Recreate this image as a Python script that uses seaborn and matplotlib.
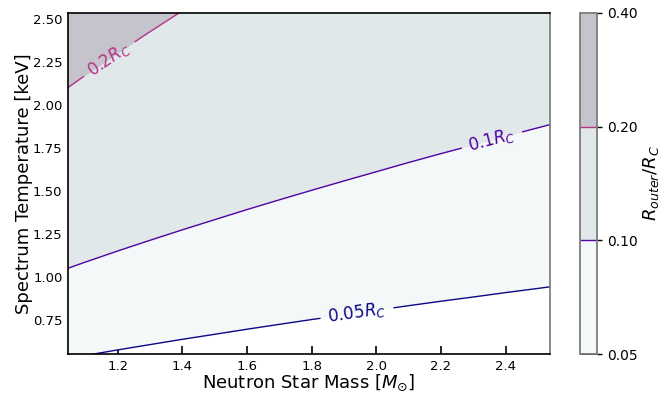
import numpy as np
import matplotlib
matplotlib.use('Agg')
import matplotlib.pyplot as plt
import seaborn as sns

# grid: R_outer / R_C at each (mass, temperature)
mass = [1.0, 1.1, 1.2, 1.3, 1.4, 1.5, 1.6, 1.7, 1.8, 1.9, 2.0, 2.1, 2.2, 2.3, 2.4, 2.5, 2.6]
temperature = [0.5, 2.6]
ratio_low_t = [0.0490, 0.0460, 0.0434, 0.0412, 0.0392, 0.0375, 0.0359, 0.0345, 0.0332,
               0.0321, 0.0310, 0.0300, 0.0291, 0.0283, 0.0275, 0.0268, 0.0261]
ratio_high_t = [0.2548, 0.2393, 0.2259, 0.2143, 0.2041, 0.1950, 0.1868, 0.1795, 0.1729,
                0.1668, 0.1613, 0.1561, 0.1514, 0.1471, 0.1430, 0.1392, 0.1356]
fill_levels = [0.05, 0.1, 0.2, 0.4]
line_levels = [0.05, 0.1, 0.2]
line_names = {0.05: '0.05$R_C$', 0.1: '0.1$R_C$', 0.2: '0.2$R_C$'}
label_spots = [(1.94, 0.79), (2.36, 1.78), (1.18, 2.25)]

sns.set_theme(style='white')
plt.rcParams['font.family'] = ['DejaVu Sans']
plt.rcParams['text.color'] = 'black'
plt.rcParams['axes.labelcolor'] = 'black'

fig = plt.figure(figsize=(6.7, 3.97), dpi=100)
ax = fig.add_axes([0.1015, 0.1083, 0.7194, 0.859])
cax = fig.add_axes([0.8657, 0.1083, 0.0254, 0.859])

M, T = np.meshgrid(mass, temperature)
Z = np.array([ratio_low_t, ratio_high_t])

fill_colors = ['#f4f8f9', '#e0e8e9', '#c5c4cc']
cf = ax.contourf(M, T, Z, levels=fill_levels, colors=fill_colors)

plasma = sns.color_palette('plasma', as_cmap=True)
line_colors = [plasma((v - 0.05) / 0.35) for v in line_levels]
cs = ax.contour(M, T, Z, levels=line_levels, colors=line_colors, linewidths=1.0)
ax.clabel(cs, fmt=line_names, fontsize=12, inline=True, manual=label_spots)

ax.set_xlim(1.046, 2.537)
ax.set_ylim(0.552, 2.535)
ax.set_xticks([1.2, 1.4, 1.6, 1.8, 2.0, 2.2, 2.4])
ax.set_yticks([0.75, 1.0, 1.25, 1.5, 1.75, 2.0, 2.25, 2.5])
ax.yaxis.set_major_formatter(matplotlib.ticker.FormatStrFormatter('%.2f'))
ax.tick_params(direction='in', length=6, width=1.2, labelsize=9.5, pad=4,
               bottom=True, left=True, top=False, right=False, colors='black')
ax.set_xlabel(r'Neutron Star Mass [$M_{\odot}$]', fontsize=13, labelpad=0)
ax.set_ylabel('Spectrum Temperature [keV]', fontsize=13, labelpad=0)
for side in ['left', 'bottom', 'top']:
    ax.spines[side].set_color('black')
    ax.spines[side].set_linewidth(1.2)
ax.spines['right'].set_color('#777777')
ax.spines['right'].set_linewidth(1.2)

cbar = fig.colorbar(cf, cax=cax)
cbar.add_lines(cs)
cbar.set_ticks(fill_levels)
cbar.set_ticklabels(['0.05', '0.10', '0.20', '0.40'])
cbar.ax.tick_params(direction='out', length=3.5, width=1, pad=4, labelsize=10,
                    right=True, colors='black')
cbar.outline.set_edgecolor('#777777')
cbar.set_label('$R_{outer}/R_C$', fontsize=13, labelpad=2)

fig.savefig('out.png', dpi=100)
